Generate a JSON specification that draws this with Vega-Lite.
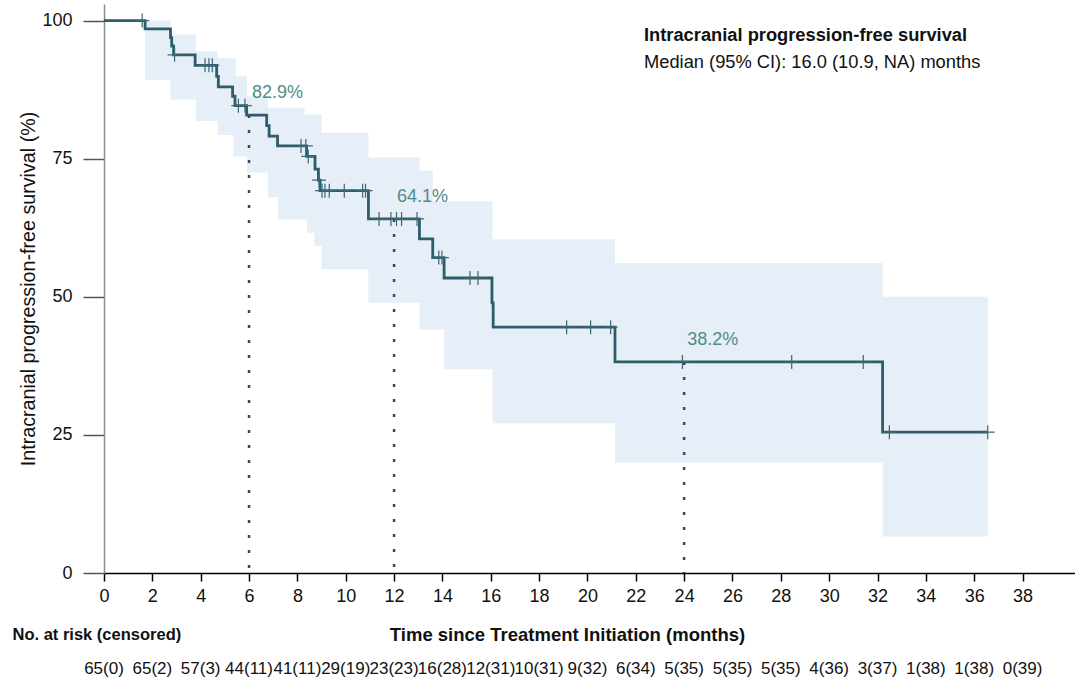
{
  "$schema": "https://vega.github.io/schema/vega-lite/v6.json",
  "autosize": {"type": "pad"},
  "padding": {"left": 12, "top": 4, "right": 0, "bottom": 0},
  "bounds": "flush",
  "spacing": 81,
  "background": "white",
  "config": {
    "font": "Liberation Sans",
    "view": {"stroke": null},
    "axis": {"grid": false, "labelFont": "Liberation Sans", "titleFont": "Liberation Sans", "labelColor": "#111", "titleColor": "#111"}
  },
  "datasets": {
    "km": [
      {"t": 0, "s": 100}, {"t": 1.7, "s": 98.5}, {"t": 2.75, "s": 96.9}, {"t": 2.8, "s": 95.4}, {"t": 2.88, "s": 93.8},
      {"t": 3.77, "s": 91.9}, {"t": 4.66, "s": 89.9}, {"t": 4.73, "s": 88.0}, {"t": 5.32, "s": 86.3}, {"t": 5.42, "s": 84.6},
      {"t": 5.9, "s": 82.9}, {"t": 6.73, "s": 81.0}, {"t": 6.83, "s": 79.1}, {"t": 7.18, "s": 77.3}, {"t": 8.38, "s": 75.4},
      {"t": 8.73, "s": 73.1}, {"t": 8.87, "s": 71.1}, {"t": 8.94, "s": 69.2}, {"t": 10.94, "s": 64.1}, {"t": 13.05, "s": 60.5},
      {"t": 13.6, "s": 57.1}, {"t": 14.07, "s": 53.4}, {"t": 16.05, "s": 48.9}, {"t": 16.1, "s": 44.5}, {"t": 21.14, "s": 38.2},
      {"t": 32.21, "s": 25.5}, {"t": 36.56, "s": 25.5}
    ],
    "band": [
      {"t": 1.7, "lo": 89.3, "hi": 100}, {"t": 2.75, "lo": 85.7, "hi": 97.5}, {"t": 3.8, "lo": 81.8, "hi": 94.5},
      {"t": 4.7, "lo": 79.3, "hi": 93.2}, {"t": 5.35, "lo": 75.4, "hi": 93.2}, {"t": 5.45, "lo": 75.4, "hi": 89.9},
      {"t": 5.92, "lo": 72.5, "hi": 86.3}, {"t": 6.78, "lo": 68.0, "hi": 84.2}, {"t": 7.2, "lo": 64.0, "hi": 84.2},
      {"t": 8.3, "lo": 64.0, "hi": 83.0}, {"t": 8.4, "lo": 61.6, "hi": 83.0}, {"t": 8.7, "lo": 59.2, "hi": 83.0},
      {"t": 9.0, "lo": 55.0, "hi": 79.7}, {"t": 10.94, "lo": 48.9, "hi": 75.2}, {"t": 13.05, "lo": 44.1, "hi": 72.8},
      {"t": 13.6, "lo": 44.1, "hi": 67.3}, {"t": 14.07, "lo": 36.9, "hi": 67.3}, {"t": 16.08, "lo": 27.1, "hi": 60.4},
      {"t": 21.14, "lo": 20.0, "hi": 56.1}, {"t": 32.21, "lo": 6.6, "hi": 50.0}, {"t": 36.56, "lo": 6.6, "hi": 50.0}
    ],
    "censor": [
      {"t": 1.58, "s": 100}, {"t": 2.92, "s": 93.8}, {"t": 4.18, "s": 91.9}, {"t": 4.34, "s": 91.9}, {"t": 4.48, "s": 91.9},
      {"t": 5.56, "s": 84.6}, {"t": 5.83, "s": 84.6}, {"t": 8.15, "s": 77.3}, {"t": 8.35, "s": 77.3}, {"t": 8.45, "s": 75.4},
      {"t": 8.9, "s": 71.1}, {"t": 9.02, "s": 69.2}, {"t": 9.14, "s": 69.2}, {"t": 9.32, "s": 69.2}, {"t": 9.94, "s": 69.2},
      {"t": 10.7, "s": 69.2}, {"t": 10.82, "s": 69.2}, {"t": 11.38, "s": 64.1}, {"t": 11.87, "s": 64.1}, {"t": 12.1, "s": 64.1},
      {"t": 12.31, "s": 64.1}, {"t": 12.95, "s": 64.1}, {"t": 13.85, "s": 57.1}, {"t": 13.98, "s": 57.1}, {"t": 15.14, "s": 53.4},
      {"t": 15.47, "s": 53.4}, {"t": 19.14, "s": 44.5}, {"t": 20.13, "s": 44.5}, {"t": 20.96, "s": 44.5}, {"t": 23.93, "s": 38.2},
      {"t": 28.45, "s": 38.2}, {"t": 31.41, "s": 38.2}, {"t": 32.49, "s": 25.5}, {"t": 36.56, "s": 25.5}
    ],
    "milestones": [
      {"time": 6, "surv": 82.9, "label": "82.9%"},
      {"time": 12, "surv": 64.1, "label": "64.1%"},
      {"time": 24, "surv": 38.2, "label": "38.2%"}
    ],
    "risk": [
      {"time": 0, "label": "65(0)"}, {"time": 2, "label": "65(2)"}, {"time": 4, "label": "57(3)"}, {"time": 6, "label": "44(11)"},
      {"time": 8, "label": "41(11)"}, {"time": 10, "label": "29(19)"}, {"time": 12, "label": "23(23)"}, {"time": 14, "label": "16(28)"},
      {"time": 16, "label": "12(31)"}, {"time": 18, "label": "10(31)"}, {"time": 20, "label": "9(32)"}, {"time": 22, "label": "6(34)"},
      {"time": 24, "label": "5(35)"}, {"time": 26, "label": "5(35)"}, {"time": 28, "label": "5(35)"}, {"time": 30, "label": "4(36)"},
      {"time": 32, "label": "3(37)"}, {"time": 34, "label": "1(38)"}, {"time": 36, "label": "1(38)"}, {"time": 38, "label": "0(39)"}
    ]
  },
  "vconcat": [
    {
      "width": 971,
      "height": 569,
      "layer": [
        {
          "data": {"name": "band"},
          "mark": {"type": "area", "interpolate": "step-after", "color": "#e6eef7", "opacity": 1},
          "encoding": {
            "x": {
              "field": "t", "type": "quantitative",
              "scale": {"domain": [0, 40.17], "nice": false},
              "axis": {
                "values": [0, 2, 4, 6, 8, 10, 12, 14, 16, 18, 20, 22, 24, 26, 28, 30, 32, 34, 36, 38],
                "title": "Time since Treatment Initiation (months)",
                "titleFontSize": 18.5, "titleFontWeight": "bold",
                "titleX": 463, "titleY": 61, "titleBaseline": "middle", "titleAlign": "center",
                "labelFontSize": 18, "labelPadding": 6, "labelFlush": false, "labelOverlap": false,
                "tickSize": 8, "tickColor": "#000", "tickWidth": 1.5,
                "domainColor": "#000", "domainWidth": 1.5
              }
            },
            "y": {
              "field": "lo", "type": "quantitative",
              "scale": {"domain": [0, 103], "nice": false},
              "axis": {
                "values": [0, 25, 50, 75, 100],
                "title": "Intracranial progression-free survival (%)",
                "titleFontSize": 19.7, "titleFontWeight": "normal",
                "titleX": -76, "titleY": 284.5, "titleAngle": -90, "titleBaseline": "middle", "titleAlign": "center",
                "labelFontSize": 18, "labelPadding": 11,
                "tickSize": 21, "tickColor": "#555", "tickWidth": 1.5,
                "domainColor": "#8c8c8c", "domainWidth": 1.5
              }
            },
            "y2": {"field": "hi"}
          }
        },
        {
          "data": {"name": "milestones"},
          "mark": {"type": "rule", "color": "#2f4a68", "strokeWidth": 2.5, "strokeDash": [3, 12]},
          "encoding": {
            "x": {"field": "time", "type": "quantitative"},
            "y": {"field": "surv", "type": "quantitative"},
            "y2": {"datum": 0}
          }
        },
        {
          "data": {"name": "km"},
          "mark": {"type": "line", "interpolate": "step-after", "color": "#2d5c6a", "strokeWidth": 2.8},
          "encoding": {
            "x": {"field": "t", "type": "quantitative"},
            "y": {"field": "s", "type": "quantitative"}
          }
        },
        {
          "data": {"name": "censor"},
          "mark": {"type": "point", "shape": "M-1,0L1,0M0,-1L0,1", "size": 196, "filled": false, "color": "#3a6873", "strokeWidth": 1.2, "opacity": 1},
          "encoding": {
            "x": {"field": "t", "type": "quantitative"},
            "y": {"field": "s", "type": "quantitative"}
          }
        },
        {
          "data": {"name": "milestones"},
          "mark": {"type": "text", "align": "left", "baseline": "middle", "dx": 3, "dy": -22, "fontSize": 18, "color": "#4e8d87"},
          "encoding": {
            "x": {"field": "time", "type": "quantitative"},
            "y": {"field": "surv", "type": "quantitative"},
            "text": {"field": "label"}
          }
        },
        {
          "data": {"values": [{"txt": "Intracranial progression-free survival"}]},
          "mark": {"type": "text", "align": "left", "baseline": "middle", "fontSize": 18.3, "fontWeight": "bold", "color": "#111"},
          "encoding": {
            "x": {"datum": 22.34, "type": "quantitative"},
            "y": {"datum": 97.2, "type": "quantitative"},
            "text": {"field": "txt"}
          }
        },
        {
          "data": {"values": [{"txt": "Median (95% CI): 16.0 (10.9, NA) months"}]},
          "mark": {"type": "text", "align": "left", "baseline": "middle", "fontSize": 18.3, "color": "#111"},
          "encoding": {
            "x": {"datum": 22.34, "type": "quantitative"},
            "y": {"datum": 92.3, "type": "quantitative"},
            "text": {"field": "txt"}
          }
        }
      ]
    },
    {
      "width": 971,
      "height": 30,
      "data": {"name": "risk"},
      "mark": {"type": "text", "fontSize": 17, "color": "#111", "baseline": "middle", "align": "center"},
      "encoding": {
        "x": {
          "field": "time", "type": "quantitative",
          "scale": {"domain": [0, 40.17], "nice": false},
          "axis": {
            "orient": "top", "labels": false, "ticks": false, "domain": false, "grid": false,
            "title": "No. at risk (censored)",
            "titleX": -92, "titleY": -20, "titleAlign": "left", "titleBaseline": "middle", "titleAngle": 0,
            "titleFontSize": 16.5, "titleFontWeight": "bold"
          }
        },
        "text": {"field": "label"}
      }
    }
  ]
}
